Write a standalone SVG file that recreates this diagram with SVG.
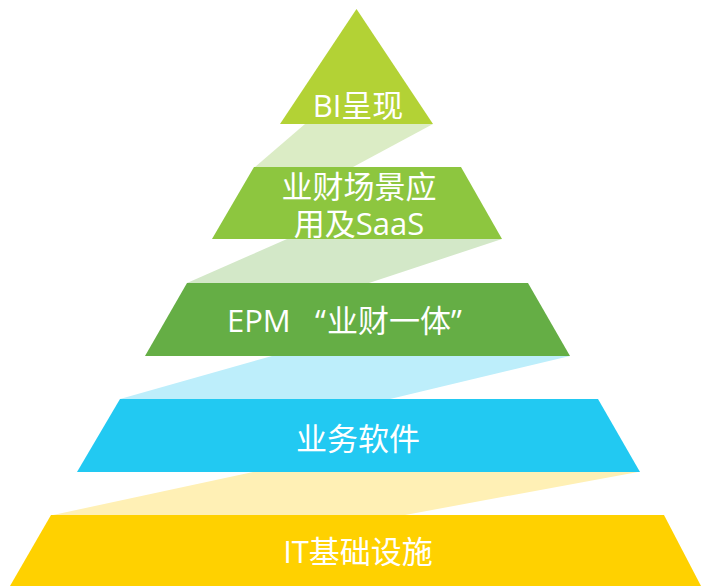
<svg xmlns="http://www.w3.org/2000/svg" width="701" height="586" viewBox="0 0 701 586">
  <style>
    .lbl { font-family: "Open Sans", "Noto Sans CJK SC", sans-serif; font-size: 31px; fill: #ffffff; text-anchor: middle; }
    .start { text-anchor: start; }
  </style>
  <rect width="701" height="586" fill="#ffffff"/>
  <g id="bands">
    <polygon points="305,124 433,124 353,167 255,167" fill="#dbecc5"/>
    <polygon points="287,239 502,239 369,283 187,283" fill="#d3e8c8"/>
    <polygon points="272,356 570,356 390,399 120,399" fill="#bdeefb"/>
    <polygon points="253,472 638,472 405,515 53,515" fill="#fff0b5"/>
  </g>
  <g id="layer-bi">
    <polygon points="356.5,9 433,124 280,124" fill="#b3d235"/>
    <text class="lbl" x="358" y="117">BI呈现</text>
  </g>
  <g id="layer-app">
    <polygon points="254,167 461,167 502,239 212,239" fill="#8dc63f"/>
    <text class="lbl" x="359" y="198">业财场景应</text>
    <text class="lbl" x="359" y="235">用及SaaS</text>
  </g>
  <g id="layer-epm">
    <polygon points="187,283 528,283 570,356 145,356" fill="#65ae45"/>
    <text class="lbl start" x="227" y="332">EPM<tspan x="315">“</tspan><tspan x="327">业财一体</tspan><tspan x="451">”</tspan></text>
  </g>
  <g id="layer-biz">
    <polygon points="120,399 598,399 640,472 77,472" fill="#22c9f2"/>
    <text class="lbl" x="358" y="450">业务软件</text>
  </g>
  <g id="layer-it">
    <polygon points="51,515 664,515 701,586 10,586" fill="#ffd100"/>
    <text class="lbl" x="358" y="563">IT基础设施</text>
  </g>
</svg>
